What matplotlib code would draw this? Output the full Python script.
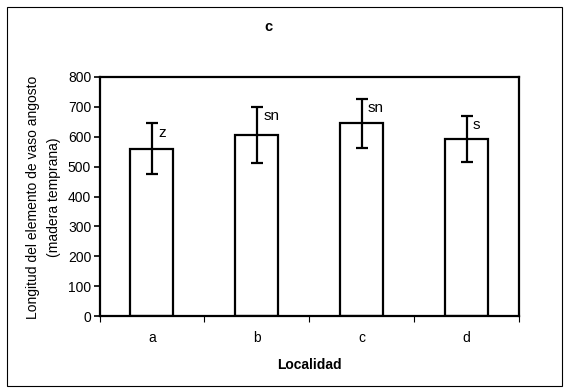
import matplotlib
matplotlib.use("Agg")
import matplotlib.pyplot as plt
from matplotlib.patches import Rectangle
import numpy as np

plt.rcParams['font.family'] = ['Liberation Sans', 'DejaVu Sans']

categories = ['a', 'b', 'c', 'd']
values = [560, 605, 645, 592]
errors = [85, 94, 83, 78]
letters = ['z', 'sn', 'sn', 's']
yticks = [0, 100, 200, 300, 400, 500, 600, 700, 800]

W, H = 564, 391
fig = plt.figure(figsize=(W / 100, H / 100), dpi=100)
ax = fig.add_axes([99.5 / W, 1 - 316 / H, (519 - 99.5) / W, (316 - 77) / H])

x = np.arange(len(categories)) + 0.5
ax.bar(x, values, width=0.41, color='white', edgecolor='black', linewidth=1.6, zorder=2)
ax.errorbar(x, values, yerr=errors, fmt='none', ecolor='black', elinewidth=1.6,
            capsize=4, capthick=1.6, zorder=3)
for xi, v, e, lab in zip(x, values, errors, letters):
    ax.annotate(lab, (xi, v + e), xytext=(4.5, -9.5), textcoords='offset points',
                ha='left', va='baseline', fontsize=11)

ax.set_xlim(0, 4)
ax.set_ylim(0, 800)
ax.set_yticks(yticks)
ax.set_xticks(x)
ax.set_xticklabels(categories)
ax.set_xticks(np.arange(0, 5), minor=True)
ax.tick_params(axis='x', which='major', length=0, pad=11, labelsize=10)
ax.tick_params(axis='x', which='minor', length=4, width=0.8, direction='out')
ax.tick_params(axis='y', length=4, width=1.2, direction='out', labelsize=10, pad=2)
for s in ax.spines.values():
    s.set_linewidth(1.6)
    s.set_color('black')

ax.set_xlabel('Localidad', fontsize=10, fontweight='bold', labelpad=9)
fig.text(33 / W, 1 - 197 / H, 'Longitud del elemento de vaso angosto',
         rotation=90, ha='center', va='center', fontsize=10)
fig.text(54 / W, 1 - 197 / H, '(madera temprana)',
         rotation=90, ha='center', va='center', fontsize=10)
fig.text(268 / W, 1 - 27 / H, 'c', ha='center', va='center', fontsize=10.5, fontweight='bold')

fig.patches.append(Rectangle((6.5 / W, 1 - 385.5 / H), (562 - 6.5) / W, (385.5 - 6.5) / H,
                             transform=fig.transFigure, fill=False, edgecolor='black',
                             linewidth=0.8))

fig.savefig('out.png', dpi=100)
